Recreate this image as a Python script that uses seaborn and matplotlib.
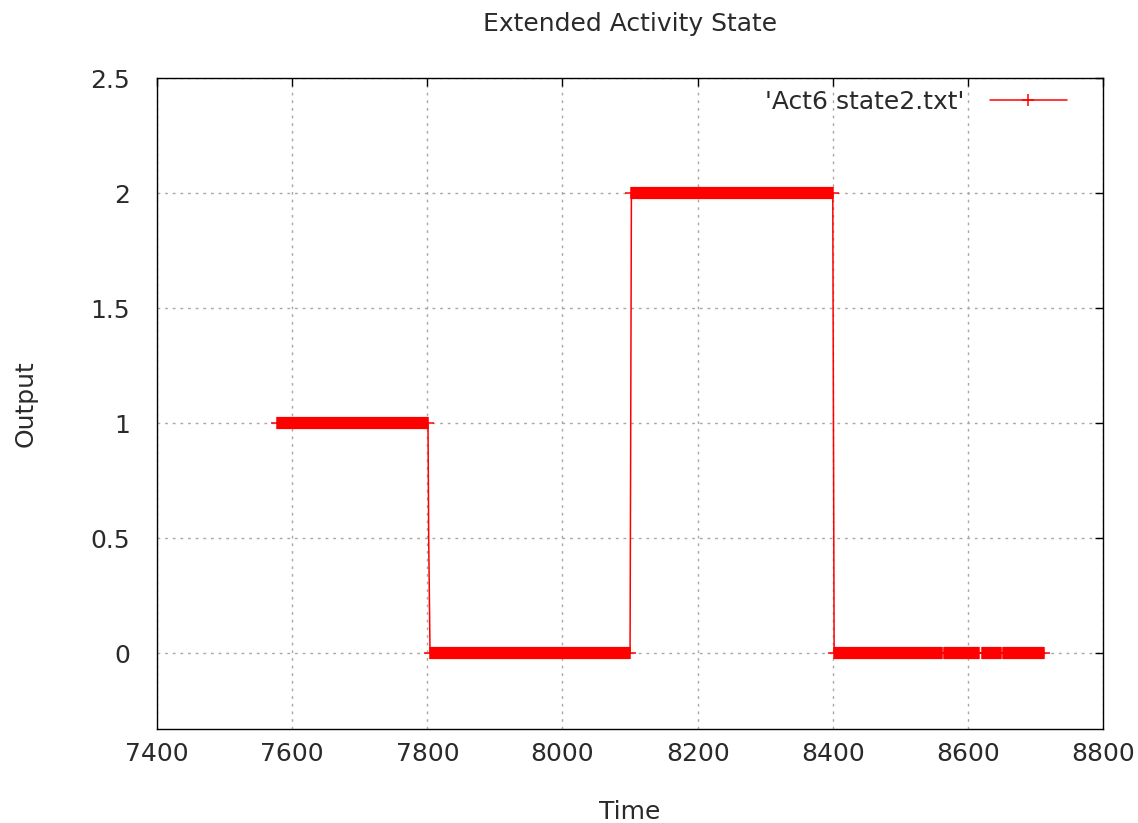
import matplotlib
matplotlib.use("Agg")
import pandas as pd
import matplotlib.pyplot as plt
import seaborn as sns
from matplotlib.lines import Line2D

# step series (time, output)
time = [7578, 7801, 7802, 7804, 8100, 8101, 8102, 8400, 8401, 8402, 8712]
output = [1, 1, 0.5, 0, 0, 1, 2, 2, 1, 0, 0]

# dense '+' point runs (start, end, level) - they show as thick bands
band_start = [7578, 7804, 8102, 8402, 8564.5, 8620.5, 8652.5]
band_end = [7801, 8100, 8400, 8561, 8617, 8649, 8712]
band_level = [1, 0, 2, 0, 0, 0, 0]

x_ticks = [7400, 7600, 7800, 8000, 8200, 8400, 8600, 8800]
y_ticks = [0, 0.5, 1, 1.5, 2, 2.5]
y_tick_labels = ["0", "0.5", "1", "1.5", "2", "2.5"]

sns.set_style("white")
plt.rcParams['font.family'] = ['DejaVu Sans']
fs = 18

df = pd.DataFrame({"Time": time, "Output": output})

fig = plt.figure(figsize=(11.38, 8.23), dpi=100)
ax = fig.add_axes([0.138, 0.1142, 0.8313, 0.791])

sns.lineplot(data=df, x="Time", y="Output", ax=ax, estimator=None, sort=False,
             color="#ff0000", linewidth=1.1, zorder=3)

for s, e, lev in zip(band_start, band_end, band_level):
    ax.plot([s, e], [lev, lev], color="#ff0000", linewidth=8.8,
            solid_capstyle="butt", zorder=4)
    ax.plot([s, e], [lev, lev], linestyle="none", marker="+", markersize=8.2,
            markeredgewidth=1.1, color="#ff0000", zorder=4)

ax.set_xlim(7400, 8800)
ax.set_ylim(-0.33, 2.5)
ax.set_xticks(x_ticks)
ax.set_yticks(y_ticks)
ax.set_yticklabels(y_tick_labels)
ax.tick_params(direction="in", length=6, width=1, top=True, right=True,
               labelsize=fs, colors="black", labelcolor="#2a2a2a")
ax.tick_params(axis="x", pad=9)
ax.tick_params(axis="y", pad=19.5)
ax.grid(True, color="#a8a8a8", linestyle=(0, (2, 3.5)), linewidth=1)
for sp in ax.spines.values():
    sp.set_color("black")
    sp.set_linewidth(1)

ax.set_title("Extended Activity State", fontsize=fs, pad=34, color="#2a2a2a")
ax.set_xlabel("Time", fontsize=fs, labelpad=25, color="#2a2a2a")
ax.set_ylabel("Output", fontsize=fs, labelpad=38, color="#2a2a2a")

handle = Line2D([0], [0], color="#ff0000", linewidth=1.1, marker="+",
                markersize=8.2, markeredgewidth=1.1)
leg = ax.legend([handle], ["'Act6 state2.txt'"], loc="upper right", frameon=False,
                fontsize=fs, markerfirst=False, handlelength=3.1,
                handletextpad=1.0, borderpad=0, borderaxespad=0,
                bbox_to_anchor=(0.962, 0.982))
for t in leg.get_texts():
    t.set_color("#2a2a2a")

fig.savefig("out.png", dpi=100)
